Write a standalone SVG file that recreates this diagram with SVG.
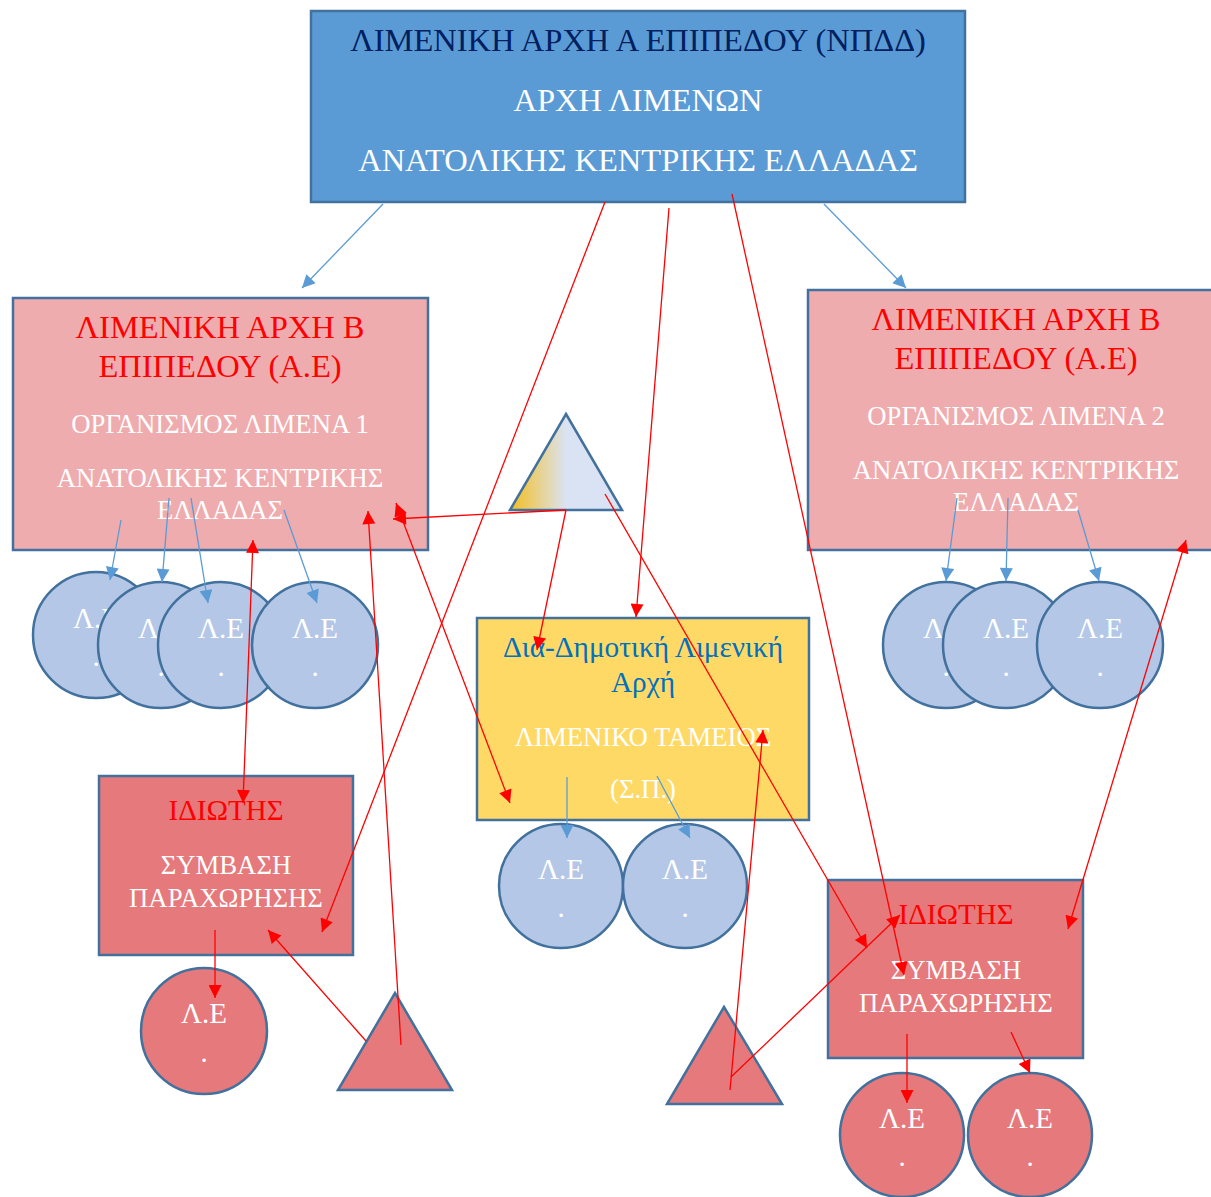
<svg xmlns="http://www.w3.org/2000/svg" width="1211" height="1197" viewBox="0 0 1211 1197">
<style>
text{font-family:"Liberation Serif","Times New Roman",serif;text-anchor:middle}
.sh{stroke:#41719C;stroke-width:2.5}
.top{fill:#5B9BD5}
.pink{fill:#EFACAE}
.red{fill:#E6797B}
.yel{fill:#FFD966}
.blu{fill:#B4C7E7}
.t32{font-size:32.5px}
.t29{font-size:29px}
.t27{font-size:26.7px}
.ty{font-size:29.3px}
.w{fill:#FFFFFF}
.r{fill:#FF0000}
.n{fill:#002060}
.b{fill:#0070C0}
.cr{stroke:#FF0000;stroke-width:1.3;fill:none;marker-end:url(#ar)}
.cr2{stroke:#FF0000;stroke-width:1.3;fill:none;marker-end:url(#ar);marker-start:url(#ar)}
.cb{stroke:#5B9BD5;stroke-width:1.3;fill:none;marker-end:url(#ab)}
</style>
<defs>
<marker id="ar" viewBox="0 0 10 10" refX="10" refY="5" markerWidth="17" markerHeight="13" markerUnits="userSpaceOnUse" orient="auto-start-reverse"><path d="M0,0 L10,5 L0,10 z" fill="#FF0000"/></marker>
<marker id="ab" viewBox="0 0 10 10" refX="10" refY="5" markerWidth="17" markerHeight="13" markerUnits="userSpaceOnUse" orient="auto-start-reverse"><path d="M0,0 L10,5 L0,10 z" fill="#5B9BD5"/></marker>
<linearGradient id="tg" x1="0" y1="0" x2="1" y2="0">
<stop offset="0" stop-color="#F5BE1E"/>
<stop offset="0.5" stop-color="#DAE3F3"/>
<stop offset="1" stop-color="#DAE3F3"/>
</linearGradient>
</defs>

<g id="top-authority">
<rect class="sh top" x="311" y="11" width="654" height="191"/>
<text class="t32 n" x="638" y="51">ΛΙΜΕΝΙΚΗ ΑΡΧΗ Α ΕΠΙΠΕΔΟΥ (ΝΠΔΔ)</text>
<text class="t32 w" x="638" y="111">ΑΡΧΗ ΛΙΜΕΝΩΝ</text>
<text class="t32 w" x="638" y="171">ΑΝΑΤΟΛΙΚΗΣ ΚΕΝΤΡΙΚΗΣ ΕΛΛΑΔΑΣ</text>
</g>

<g id="left-authority">
<rect class="sh pink" x="13" y="298" width="415" height="252"/>
<text class="t32 r" x="220" y="338">ΛΙΜΕΝΙΚΗ ΑΡΧΗ Β</text>
<text class="t32 r" x="220" y="377">ΕΠΙΠΕΔΟΥ (Α.Ε)</text>
<text class="t27 w" x="220" y="433">ΟΡΓΑΝΙΣΜΟΣ ΛΙΜΕΝΑ 1</text>
<text class="t27 w" x="220" y="487">ΑΝΑΤΟΛΙΚΗΣ ΚΕΝΤΡΙΚΗΣ</text>
<text class="t27 w" x="220" y="519">ΕΛΛΑΔΑΣ</text>
</g>

<g id="right-authority">
<rect class="sh pink" x="808" y="290" width="416" height="260"/>
<text class="t32 r" x="1016" y="330">ΛΙΜΕΝΙΚΗ ΑΡΧΗ Β</text>
<text class="t32 r" x="1016" y="369">ΕΠΙΠΕΔΟΥ (Α.Ε)</text>
<text class="t27 w" x="1016" y="425">ΟΡΓΑΝΙΣΜΟΣ ΛΙΜΕΝΑ 2</text>
<text class="t27 w" x="1016" y="479">ΑΝΑΤΟΛΙΚΗΣ ΚΕΝΤΡΙΚΗΣ</text>
<text class="t27 w" x="1016" y="511">ΕΛΛΑΔΑΣ</text>
</g>

<g id="left-le-1"><circle class="sh blu" cx="96" cy="635" r="63"/><text class="t29 w" x="96" y="628">Λ.Ε</text><text class="t29 w" x="96" y="666">.</text></g>
<g id="left-le-2"><circle class="sh blu" cx="161" cy="645" r="63"/><text class="t29 w" x="161" y="638">Λ.Ε</text><text class="t29 w" x="161" y="676">.</text></g>
<g id="left-le-3"><circle class="sh blu" cx="221" cy="645" r="63"/><text class="t29 w" x="221" y="638">Λ.Ε</text><text class="t29 w" x="221" y="676">.</text></g>
<g id="left-le-4"><circle class="sh blu" cx="315" cy="645" r="63"/><text class="t29 w" x="315" y="638">Λ.Ε</text><text class="t29 w" x="315" y="676">.</text></g>

<g id="right-le-1"><circle class="sh blu" cx="946" cy="645" r="63"/><text class="t29 w" x="946" y="638">Λ.Ε</text><text class="t29 w" x="946" y="676">.</text></g>
<g id="right-le-2"><circle class="sh blu" cx="1006" cy="645" r="63"/><text class="t29 w" x="1006" y="638">Λ.Ε</text><text class="t29 w" x="1006" y="676">.</text></g>
<g id="right-le-3"><circle class="sh blu" cx="1100" cy="645" r="63"/><text class="t29 w" x="1100" y="638">Λ.Ε</text><text class="t29 w" x="1100" y="676">.</text></g>

<g id="center-triangle">
<polygon class="sh" fill="url(#tg)" points="566,414 622,510 510,510"/>
</g>

<g id="inter-municipal">
<rect class="sh yel" x="477" y="618" width="332" height="202"/>
<text class="ty b" x="643" y="657">Δια-Δημοτική Λιμενική</text>
<text class="ty b" x="643" y="692">Αρχή</text>
<text class="t27 w" x="643" y="746">ΛΙΜΕΝΙΚΟ ΤΑΜΕΙΟΣ</text>
<text class="t27 w" x="643" y="798">(Σ.Π.)</text>
</g>

<g id="mid-le-1"><circle class="sh blu" cx="561" cy="886" r="62"/><text class="t29 w" x="561" y="879">Λ.Ε</text><text class="t29 w" x="561" y="917">.</text></g>
<g id="mid-le-2"><circle class="sh blu" cx="685" cy="886" r="62"/><text class="t29 w" x="685" y="879">Λ.Ε</text><text class="t29 w" x="685" y="917">.</text></g>

<g id="left-private">
<rect class="sh red" x="99" y="776" width="254" height="179"/>
<text class="t29 r" x="226" y="820">ΙΔΙΩΤΗΣ</text>
<text class="t27 w" x="226" y="874">ΣΥΜΒΑΣΗ</text>
<text class="t27 w" x="226" y="907">ΠΑΡΑΧΩΡΗΣΗΣ</text>
</g>

<g id="left-private-le"><circle class="sh red" cx="204" cy="1031" r="63"/><text class="t29 w" x="204" y="1023">Λ.Ε</text><text class="t29 w" x="204" y="1062">.</text></g>

<g id="left-triangle"><polygon class="sh red" points="395,993 452,1090 338,1090"/></g>

<g id="right-triangle"><polygon class="sh red" points="724,1007 782,1104 667,1104"/></g>

<g id="right-private">
<rect class="sh red" x="828" y="880" width="255" height="178"/>
<text class="t29 r" x="956" y="924">ΙΔΙΩΤΗΣ</text>
<text class="t27 w" x="956" y="979">ΣΥΜΒΑΣΗ</text>
<text class="t27 w" x="956" y="1012">ΠΑΡΑΧΩΡΗΣΗΣ</text>
</g>

<g id="right-private-le-1"><circle class="sh red" cx="902" cy="1135" r="62"/><text class="t29 w" x="902" y="1128">Λ.Ε</text><text class="t29 w" x="902" y="1166">.</text></g>
<g id="right-private-le-2"><circle class="sh red" cx="1030" cy="1135" r="62"/><text class="t29 w" x="1030" y="1128">Λ.Ε</text><text class="t29 w" x="1030" y="1166">.</text></g>

<g id="connectors">
<line class="cb" x1="383" y1="204" x2="302" y2="288"/>
<line class="cb" x1="824" y1="204" x2="906" y2="288"/>
<line class="cb" x1="121" y1="520" x2="110" y2="580"/>
<line class="cb" x1="169" y1="498" x2="162" y2="582"/>
<line class="cb" x1="191" y1="498" x2="208" y2="603"/>
<line class="cb" x1="284" y1="510" x2="317" y2="603"/>
<line class="cb" x1="957" y1="498" x2="946" y2="581"/>
<line class="cb" x1="1008" y1="498" x2="1006" y2="581"/>
<line class="cb" x1="1078" y1="510" x2="1099" y2="581"/>
<line class="cb" x1="567" y1="777" x2="567" y2="838"/>
<line class="cb" x1="657" y1="776" x2="690" y2="838"/>

<line class="cr" x1="605" y1="202" x2="322" y2="932"/>
<line class="cr" x1="669" y1="208" x2="636" y2="617"/>
<line class="cr" x1="732" y1="194" x2="904" y2="975"/>
<line class="cr" x1="566" y1="510" x2="393" y2="519"/>
<line class="cr" x1="566" y1="510" x2="537" y2="650"/>
<line class="cr" x1="605" y1="494" x2="867" y2="948"/>
<line class="cr2" x1="253" y1="540" x2="243" y2="803"/>
<line class="cr2" x1="396" y1="503" x2="510" y2="803"/>
<line class="cr2" x1="1186" y1="540" x2="1068" y2="929"/>
<line class="cr" x1="401" y1="1045" x2="368" y2="511"/>
<line class="cr" x1="366" y1="1041" x2="268" y2="930"/>
<line class="cr" x1="730" y1="1090" x2="763" y2="730"/>
<line class="cr" x1="731" y1="1077" x2="900" y2="915"/>
<line class="cr" x1="215" y1="930" x2="215" y2="998"/>
<line class="cr" x1="907" y1="1034" x2="907" y2="1103"/>
<line class="cr" x1="1011" y1="1032" x2="1030" y2="1073"/>
</g>
</svg>
